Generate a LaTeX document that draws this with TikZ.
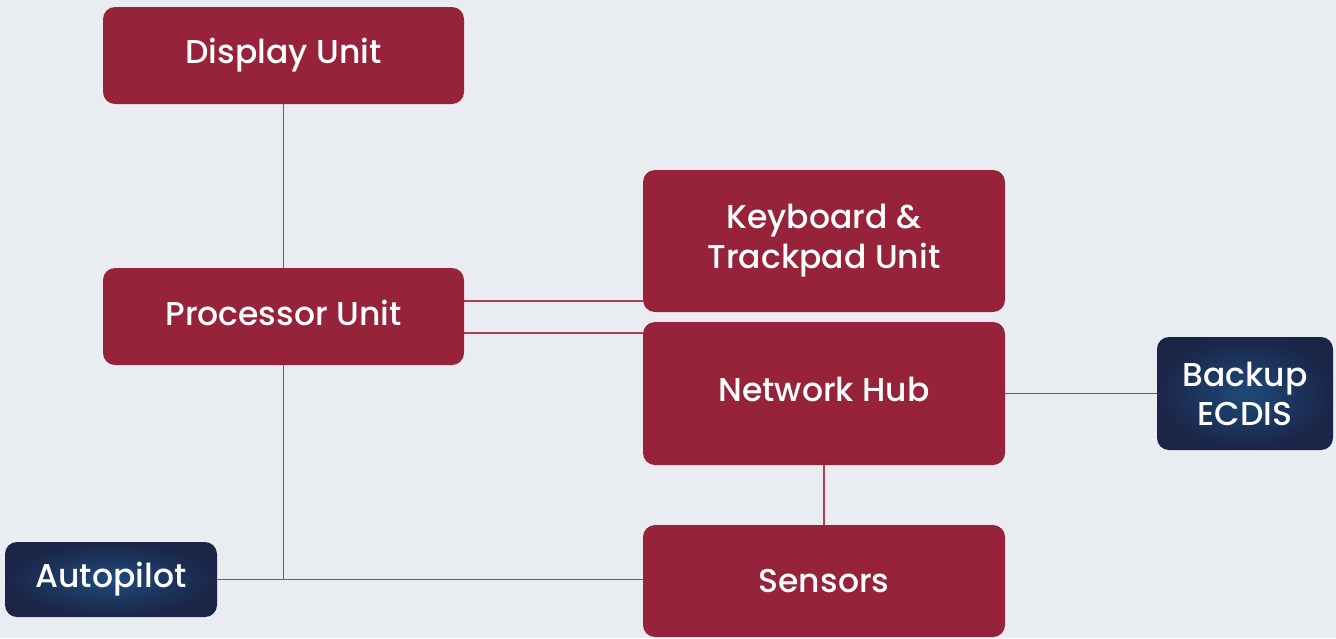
\documentclass[tikz,border=0pt]{standalone}
\usepackage{fontspec}
\setmainfont{Poppins}[UprightFont=* Medium]
\definecolor{bgc}{HTML}{E9EDF1}
\definecolor{boxred}{HTML}{962339}
\definecolor{linec}{HTML}{B73A52}
\definecolor{navy}{HTML}{1B2547}
\definecolor{glow}{HTML}{1E4A7A}
\begin{document}
\begin{tikzpicture}[x=1pt,y=-1pt,
  redbox/.style={rectangle, rounded corners=12pt, fill=boxred, text=white,
    font=\fontsize{33}{40}\selectfont, align=center, inner sep=0pt},
  navybox/.style={rectangle, rounded corners=12pt, inner color=glow, outer color=navy, text=white,
    font=\fontsize{33}{39}\selectfont, align=center, inner sep=0pt},
  link/.style={draw=linec, line width=1.4pt}]
\fill[bgc] (0,0) rectangle (1336,638);
\useasboundingbox (0,0) rectangle (1336,638);
\node[redbox, minimum width=361pt, minimum height=97pt] (disp) at (283.5,55.5) {Display Unit};
\node[redbox, minimum width=361pt, minimum height=97pt, text depth=8pt] (proc) at (283.5,316.5) {Processor Unit};
\node[redbox, minimum width=362pt, minimum height=142pt] (kb) at (824,241) {Keyboard \&\\Trackpad Unit};
\node[redbox, minimum width=362pt, minimum height=143pt, text depth=8pt] (hub) at (824,393.5) {Network Hub};
\node[redbox, minimum width=362pt, minimum height=112pt] (sens) at (824,581) {Sensors};
\node[navybox, minimum width=176pt, minimum height=113pt] (backup) at (1245,393.5) {Backup\\ECDIS};
\node[navybox, minimum width=212pt, minimum height=75pt] (auto) at (111,579.5) {Autopilot};
\coordinate (j) at (proc.south |- auto.east);
\draw[link] (disp.south) -- (proc.north);
\draw[link] (proc.east |- 0,301) -- (kb.west |- 0,301);
\draw[link] (proc.east |- 0,333) -- (hub.west |- 0,333);
\draw[link] (hub.east) -- (backup.west);
\draw[link] (hub.south) -- (sens.north);
\draw[link] (proc.south) -- (j);
\draw[link] (auto.east) -- (sens.west |- auto.east);
\end{tikzpicture}
\end{document}
